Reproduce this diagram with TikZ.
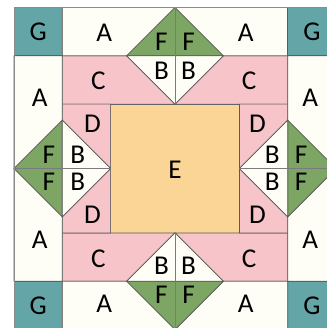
\documentclass[tikz,border=0pt]{standalone}
\usepackage{fontspec}
\setmainfont{Carlito}
\usepackage{xcolor}
\usetikzlibrary{positioning}

\definecolor{gteal}{HTML}{64A5A8}
\definecolor{fgreen}{HTML}{7DA564}
\definecolor{cpink}{HTML}{F7C4CA}
\definecolor{eorange}{HTML}{FAD596}
\definecolor{acream}{HTML}{FFFEF6}
\definecolor{seam}{HTML}{5A5A5A}

\begin{document}
\begin{tikzpicture}[
  patch/.style={draw=seam, line width=0.6pt, line join=miter},
  centerseam/.style={draw=seam!80, line width=0.6pt},
  letter/.style={font=\fontsize{24}{24}\selectfont, inner sep=0pt, text=black}
]
  \useasboundingbox (-5.435,-4.953) rectangle (4.689,5.233);

  % Centre square E
  \path[patch, fill=eorange] (-2,-2) rectangle (2,2);
  \node[letter] (E) at (0,-0.05) {E};

  % Pink C strips (top and bottom)
  \foreach \s in {1,-1} {
    \path[patch, fill=cpink] (-3.5,3.5*\s) -- (-1.5,3.5*\s) -- (0,2*\s) -- (-3.5,2*\s) -- cycle;
    \path[patch, fill=cpink] (3.5,3.5*\s) -- (1.5,3.5*\s) -- (0,2*\s) -- (3.5,2*\s) -- cycle;
  }
  % Pink D pieces (left and right)
  \foreach \s in {1,-1} {
    \path[patch, fill=cpink] (-3.5*\s,2) -- (-2*\s,2) -- (-2*\s,0) -- (-3.5*\s,1.5) -- cycle;
    \path[patch, fill=cpink] (-3.5*\s,-2) -- (-2*\s,-2) -- (-2*\s,0) -- (-3.5*\s,-1.5) -- cycle;
  }
  \node[letter] (Ctl) at (-2.38,2.72) {C};
  \node[letter] (Ctr) at (2.3,2.72) {C};
  \node[letter] (Cbl) at (-2.38,-2.8) {C};
  \node[letter] (Cbr) at (2.3,-2.8) {C};
  \node[letter] (Dtl) at (-2.56,1.38) {D};
  \node[letter] (Dtr) at (2.56,1.38) {D};
  \node[letter] (Dbl) at (-2.56,-1.45) {D};
  \node[letter] (Dbr) at (2.56,-1.45) {D};

  % Border band: corners G, backgrounds A, flying geese F/B
  \foreach \r in {0,90,180,270} {
    \begin{scope}[rotate=\r]
      \path[patch, fill=gteal] (-5,3.5) rectangle (-3.5,5);
      \path[patch, fill=acream] (-3.5,5) -- (0,5) -- (-1.5,3.5) -- (-3.5,3.5) -- cycle;
      \path[patch, fill=acream] (3.5,5) -- (0,5) -- (1.5,3.5) -- (3.5,3.5) -- cycle;
      \path[patch, fill=fgreen] (0,5) -- (-1.5,3.5) -- (1.5,3.5) -- cycle;
      \path[patch, fill=acream] (-1.5,3.5) -- (1.5,3.5) -- (0,2) -- cycle;
      \draw[centerseam] (0,5) -- (0,2);
      \node[letter] (G\r) at (-4.25,4.25) {G};
      \node[letter] (Al\r) at (-2.2,4.2) {A};
      \node[letter] (Ar\r) at (2.2,4.2) {A};
      \node[letter] (Fl\r) at (-0.42,3.92) {F};
      \node[letter] (Fr\r) at (0.42,3.92) {F};
      \node[letter] (Bl\r) at (-0.42,3.02) {B};
      \node[letter] (Br\r) at (0.42,3.02) {B};
    \end{scope}
  }

  % Outer edge
  \draw[seam!70, line width=0.8pt] (-5,-5) rectangle (5,5);
\end{tikzpicture}
\end{document}
